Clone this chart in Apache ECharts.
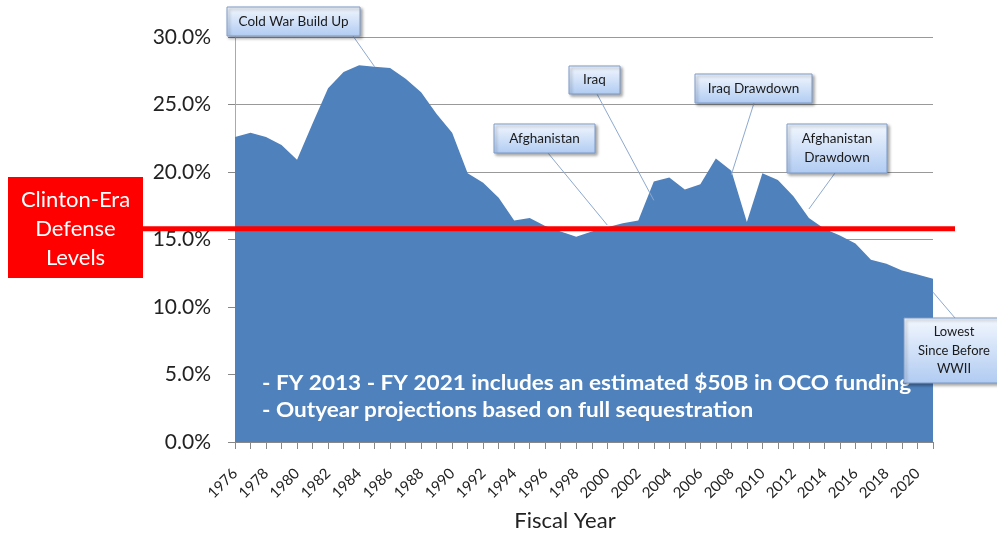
<!DOCTYPE html>
<html>
<head>
<meta charset="utf-8">
<script src="https://cdn.jsdelivr.net/npm/echarts@6/dist/echarts.min.js"></script>
<style>
html,body{margin:0;padding:0;background:#fff;}
#chart{width:997px;height:536px;}
</style>
</head>
<body>
<div id="chart"></div>
<script>
const years = ['1976','1977','1978','1979','1980','1981','1982','1983','1984','1985',
  '1986','1987','1988','1989','1990','1991','1992','1993','1994','1995',
  '1996','1997','1998','1999','2000','2001','2002','2003','2004','2005',
  '2006','2007','2008','2009','2010','2011','2012','2013','2014','2015',
  '2016','2017','2018','2019','2020','2021'];
const defenseShare = [22.6,22.9,22.6,22.0,20.9,23.6,26.2,27.4,27.9,27.8,
  27.7,26.9,25.9,24.3,22.9,19.9,19.2,18.1,16.4,16.6,
  16.0,15.6,15.2,15.6,15.9,16.2,16.4,19.3,19.6,18.7,
  19.1,21.0,20.1,16.3,19.9,19.4,18.2,16.6,15.8,15.3,
  14.7,13.5,13.2,12.7,12.4,12.1];
const clintonEraLevel = 15.8;
const yTicks = [0,5,10,15,20,25,30];
const notes = ['- FY 2013 - FY 2021 includes an estimated $50B in OCO funding',
  '- Outyear projections based on full sequestration'];
// callouts: text lines and the data anchor (category index, value) their leader points to
const callouts = [
  {lines:['Cold War Build Up'], anchor:[8.83,27.8]},
  {lines:['Iraq'], anchor:[26.5,17.9]},
  {lines:['Afghanistan'], anchor:[24.3,16.07]},
  {lines:['Iraq Drawdown'], anchor:[32.1,19.8]},
  {lines:['Afghanistan','Drawdown'], anchor:[36.6,17.26]},
  {lines:['Lowest','Since Before','WWII'], anchor:[45,11.1]}
];
// layout of callout boxes (x, y, w, h, leader start x, leader start y, font size, line height)
const boxLayout = [
  [227,7,133,29,353,36,13.5,19],
  [569,66,51,28,597,94,13.5,19],
  [494,124,101,29,548,153,13.5,19],
  [695,74,117,29,754,103,13.5,19],
  [787,124,100,49,835,173,13.5,19],
  [904,318,100,65,955,318,13,18.5]
];

const FONT = 'Lato, "Open Sans", sans-serif';
const chart = echarts.init(document.getElementById('chart'), null, {renderer:'canvas'});

chart.setOption({
  animation:false,
  backgroundColor:'#fff',
  grid:{left:235, right:64, top:37, bottom:94, containLabel:false, outerBoundsMode:'none'},
  xAxis:{
    type:'category', data:years, boundaryGap:false,
    axisLine:{lineStyle:{color:'#888',width:1}},
    axisTick:{show:true, interval:0, length:7, lineStyle:{color:'#888'}},
    axisLabel:{interval:1, rotate:45, fontSize:15, color:'#222', fontFamily:FONT, margin:29},
    name:'Fiscal Year', nameLocation:'middle', nameGap:68,
    nameTextStyle:{fontSize:22, color:'#222', fontFamily:FONT, padding:[0,38,0,0]},
    splitLine:{show:false}
  },
  yAxis:{
    type:'value', min:0, max:30, interval:5,
    axisLine:{show:true, lineStyle:{color:'#aaa'}},
    axisTick:{show:true, length:7, lineStyle:{color:'#888'}},
    axisLabel:{formatter:v=>v.toFixed(1)+'%', fontSize:21, color:'#222', fontFamily:FONT, margin:24},
    splitLine:{show:true, lineStyle:{color:'#999', width:1}}
  },
  series:[{
    type:'line', data:defenseShare, symbol:'none', smooth:false,
    lineStyle:{width:0, color:'#4F81BD'},
    itemStyle:{color:'#4F81BD'},
    areaStyle:{color:'#4F81BD', opacity:1},
    z:2
  }]
});

const graphics = [];
const redY = chart.convertToPixel({yAxisIndex:0}, clintonEraLevel);
// bottom notes
notes.forEach((t,i)=>{
  graphics.push({type:'text', x:262, y:383+i*27, z:10, scaleX:1.075,
    style:{text:t, fill:'#fff', font:'bold 21px '+FONT, textVerticalAlign:'middle', textAlign:'left'}});
});
// red line
graphics.push({type:'line', z:20, shape:{x1:143, y1:redY, x2:955, y2:redY},
  style:{stroke:'#FF0000', lineWidth:5}});
// red box
graphics.push({type:'rect', z:21, shape:{x:8, y:177, width:135, height:101},
  style:{fill:'#FF0000'}});
['Clinton-Era','Defense','Levels'].forEach((t,i)=>{
  graphics.push({type:'text', z:22, x:75.5, y:200+i*29,
    style:{text:t, fill:'#fff', font:'22px '+FONT, textAlign:'center', textVerticalAlign:'middle'}});
});
// callouts
callouts.forEach((c,i)=>{
  const [bx,by,bw,bh,lx,ly,fs,lh] = boxLayout[i];
  const p = chart.convertToPixel({gridIndex:0}, c.anchor);
  graphics.push({type:'line', z:25, shape:{x1:lx, y1:ly, x2:p[0], y2:p[1]},
    style:{stroke:'#8DA9CF', lineWidth:1}});
  graphics.push({type:'rect', z:30, shape:{x:bx, y:by, width:bw, height:bh},
    style:{
      fill:new echarts.graphic.LinearGradient(0,0,0,1,[{offset:0,color:'#F2F7FE'},{offset:1,color:'#B0CBF2'}]),
      stroke:'#7F9CC8', lineWidth:1,
      shadowBlur:3, shadowOffsetX:2, shadowOffsetY:2, shadowColor:'rgba(0,0,0,0.35)'
    }});
  const startY = by + bh/2 - (c.lines.length-1)*lh/2;
  c.lines.forEach((t,j)=>{
    graphics.push({type:'text', z:31, x:bx+bw/2, y:startY+j*lh,
      style:{text:t, fill:'#1a1a1a', font:fs+'px '+FONT, textAlign:'center', textVerticalAlign:'middle'}});
  });
});
chart.setOption({graphic:{elements:graphics}});
</script>
</body>
</html>
